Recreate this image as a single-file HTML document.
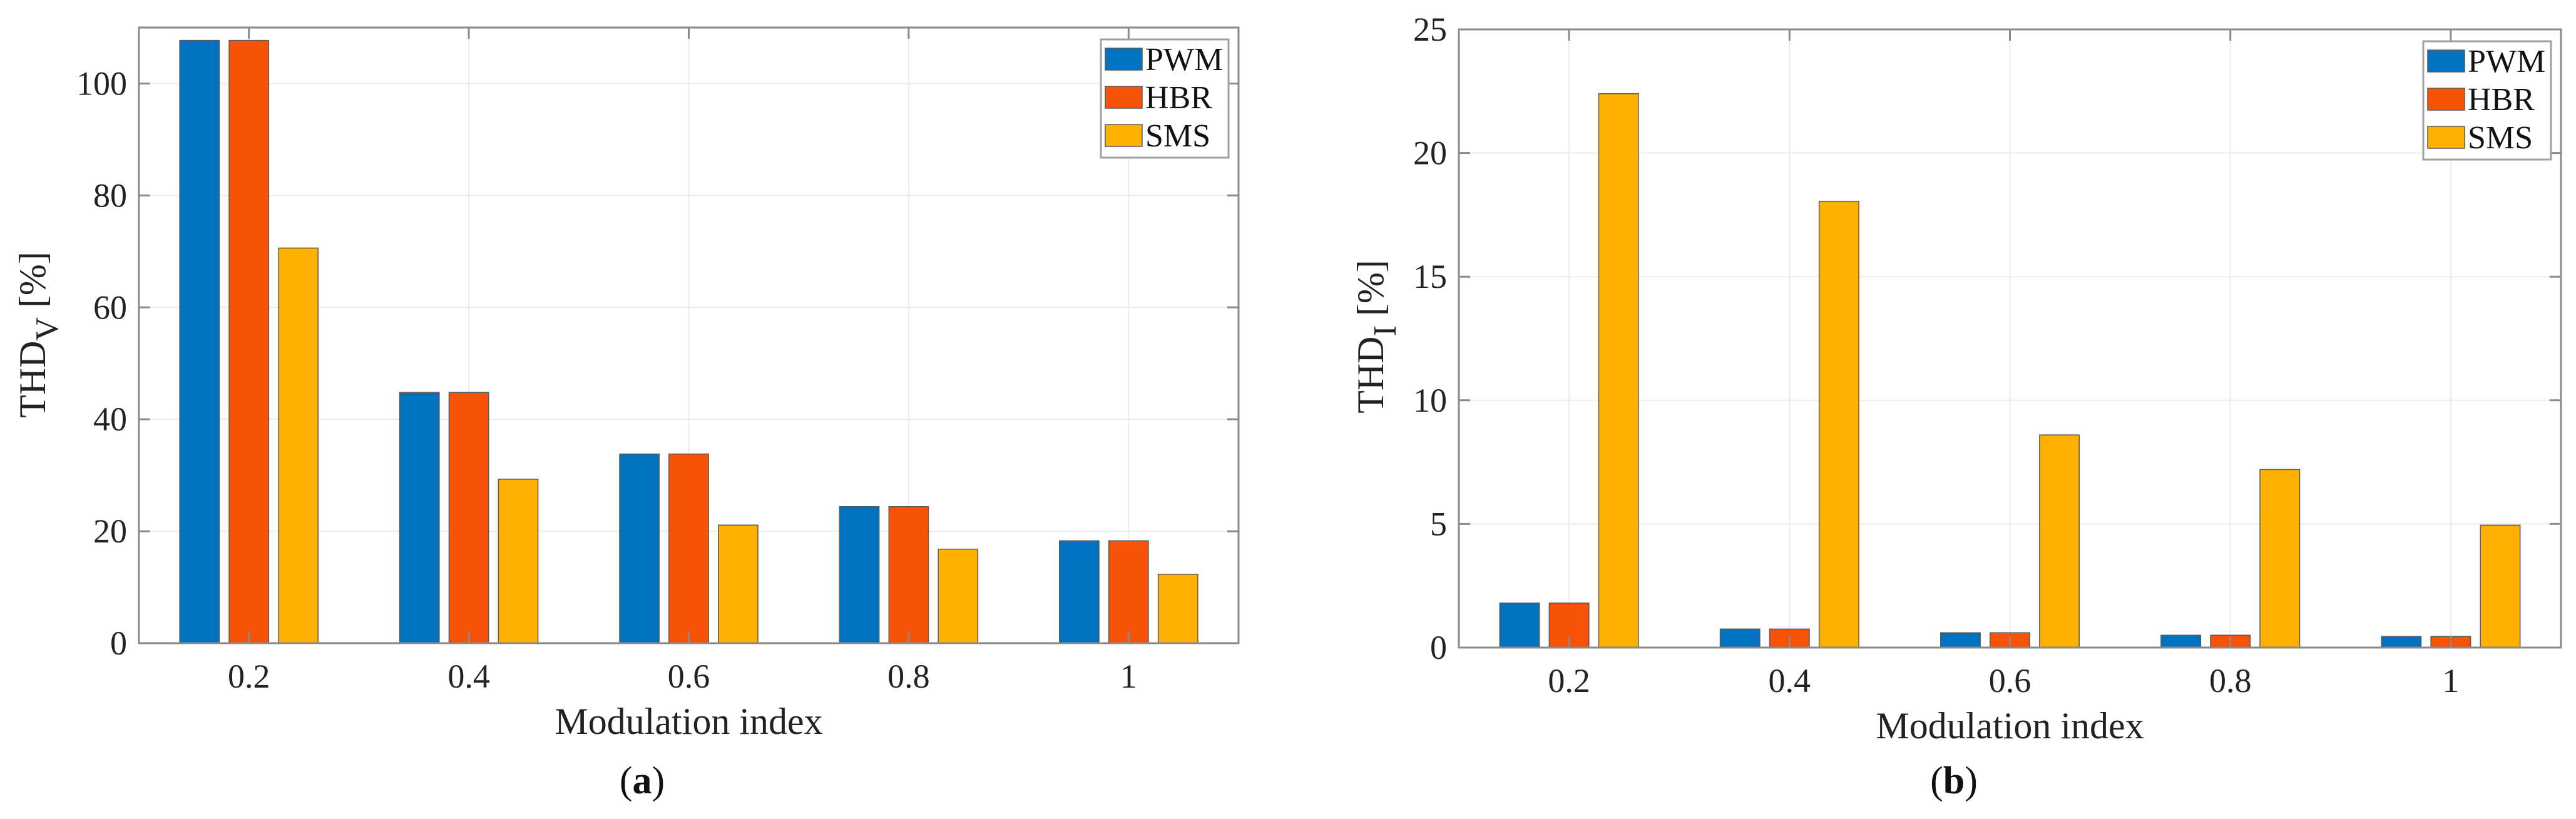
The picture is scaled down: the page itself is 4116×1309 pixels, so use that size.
<!DOCTYPE html>
<html><head><meta charset="utf-8"><style>
html,body{margin:0;padding:0;background:#fff}
svg{display:block;font-family:"Liberation Serif",serif}
</style></head><body>
<svg id="fig" width="4116" height="1309" viewBox="0 0 4116 1309" xmlns="http://www.w3.org/2000/svg"></svg>
<script>
const categories = [0.2, 0.4, 0.6, 0.8, 1];
const tickLabelsX = ["0.2", "0.4", "0.6", "0.8", "1"];
const seriesNames = ["PWM", "HBR", "SMS"];
const thdvPWM = [107.7, 44.8, 33.8, 24.4, 18.3];
const thdvHBR = [107.7, 44.8, 33.8, 24.4, 18.3];
const thdvSMS = [70.6, 29.3, 21.1, 16.8, 12.3];
const thdiPWM = [1.8, 0.75, 0.6, 0.5, 0.45];
const thdiHBR = [1.8, 0.75, 0.6, 0.5, 0.45];
const thdiSMS = [22.4, 18.05, 8.6, 7.2, 4.95];
const ticksV = [0, 20, 40, 60, 80, 100];
const ticksI = [0, 5, 10, 15, 20, 25];
const colors = ["#0072BF", "#F85207", "#FFB000"];

const NS = "http://www.w3.org/2000/svg";
const svg = document.getElementById("fig");
function mk(tag, attrs, parent, text) {
  const e = document.createElementNS(NS, tag);
  for (const k in attrs) e.setAttribute(k, attrs[k]);
  if (text !== undefined) e.textContent = text;
  (parent || svg).appendChild(e);
  return e;
}

function drawChart(cfg) {
  const g = mk("g", {});
  
  
  const L = cfg.left, R = cfg.right, T = cfg.top, B = cfg.bottom;
  const xs = v => L + (v - 0.1) / 1.0 * (R - L);
  const ys = v => B - v / cfg.ymax * (B - T);
  const step = xs(0.2) - xs(0);
  cfg.ticks.forEach(t => {
    const l = mk("line", {x1: L, x2: R, y1: ys(t), y2: ys(t), stroke: "#ebebeb", "stroke-width": 2}, g);
    
    
  });
  categories.forEach(c => {
    const l = mk("line", {x1: xs(c), x2: xs(c), y1: T, y2: B, stroke: "#ebebeb", "stroke-width": 2}, g);
    
    
  });
  const bw = step * 0.18, off = step * 0.2245;
  cfg.series.forEach((s, si) => {
    s.forEach((v, i) => {
      const cx = xs(categories[i]) + (si - 1) * off;
      const r = mk("rect", {x: cx - bw / 2, y: ys(v), width: bw, height: B - ys(v), fill: colors[si], stroke: "#5a5a5a", "stroke-width": 1.5}, g);
      
      
    });
  });
  const box = mk("rect", {x: L, y: T, width: R - L, height: B - T, fill: "none", stroke: "#8a8a8a", "stroke-width": 3}, g);
  
  
  cfg.ticks.forEach(t => {
    mk("line", {x1: L, x2: L + 18, y1: ys(t), y2: ys(t), stroke: "#8a8a8a", "stroke-width": 3}, g);
    mk("line", {x1: R, x2: R - 18, y1: ys(t), y2: ys(t), stroke: "#8a8a8a", "stroke-width": 3}, g);
    const tx = mk("text", {x: cfg.tickRight, y: ys(t) + 18, "text-anchor": "end", "font-size": 54, fill: "#222"}, g, String(t));
    
    
  });
  categories.forEach((c, i) => {
    mk("line", {x1: xs(c), x2: xs(c), y1: B, y2: B - 18, stroke: "#8a8a8a", "stroke-width": 3}, g);
    mk("line", {x1: xs(c), x2: xs(c), y1: T, y2: T + 18, stroke: "#8a8a8a", "stroke-width": 3}, g);
    const tx = mk("text", {x: xs(c), y: B + 71, "text-anchor": "middle", "font-size": 54, fill: "#222"}, g, tickLabelsX[i]);
    
    
  });
  const xl = mk("text", {x: (L + R) / 2, y: B + 145, "text-anchor": "middle", "font-size": 60, fill: "#222"}, g, "Modulation index");
  
  
  const yl = mk("text", {transform: `translate(${cfg.ylabX},${cfg.ylabY}) rotate(-90)`, "text-anchor": "middle", "font-size": 60, fill: "#222"}, g);
  
  
  mk("tspan", {}, yl, "THD");
  mk("tspan", {dy: 20, "font-size": 52}, yl, cfg.sub);
  mk("tspan", {dy: -20}, yl, " [%]");
  const lg = mk("g", {}, g);
  
  
  const lx = R - 220, ly = T + 19;
  mk("rect", {x: lx, y: ly, width: 204, height: 189, fill: "#fff", stroke: "#a0a0a0", "stroke-width": 3}, lg);
  seriesNames.forEach((n, si) => {
    const ent = mk("g", {}, lg);
    
    
    const ry = ly + 14 + si * 61;
    mk("rect", {x: lx + 7, y: ry, width: 59, height: 35, fill: colors[si], stroke: "#5a5a5a", "stroke-width": 1.5}, ent);
    mk("text", {x: lx + 71, y: ry + 35, "font-size": 52, fill: "#111"}, ent, n);
  });
  const pl = mk("text", {x: cfg.panelX, y: 1268, "text-anchor": "middle", "font-size": 62, fill: "#111"}, g);
  
  
  mk("tspan", {}, pl, "(");
  mk("tspan", {"font-weight": "bold"}, pl, cfg.panel);
  mk("tspan", {}, pl, ")");
}

drawChart({name: "chart-thd-voltage", left: 222, right: 1979, top: 44, bottom: 1028, ymax: 110,
  ticks: ticksV, series: [thdvPWM, thdvHBR, thdvSMS], tickRight: 203, ylabX: 72, ylabY: 535,
  sub: "V", panel: "a", panelX: 1026});
drawChart({name: "chart-thd-current", left: 2331, right: 4092, top: 47, bottom: 1035, ymax: 25,
  ticks: ticksI, series: [thdiPWM, thdiHBR, thdiSMS], tickRight: 2312, ylabX: 2210, ylabY: 538,
  sub: "I", panel: "b", panelX: 3122});
</script>
</body></html>
